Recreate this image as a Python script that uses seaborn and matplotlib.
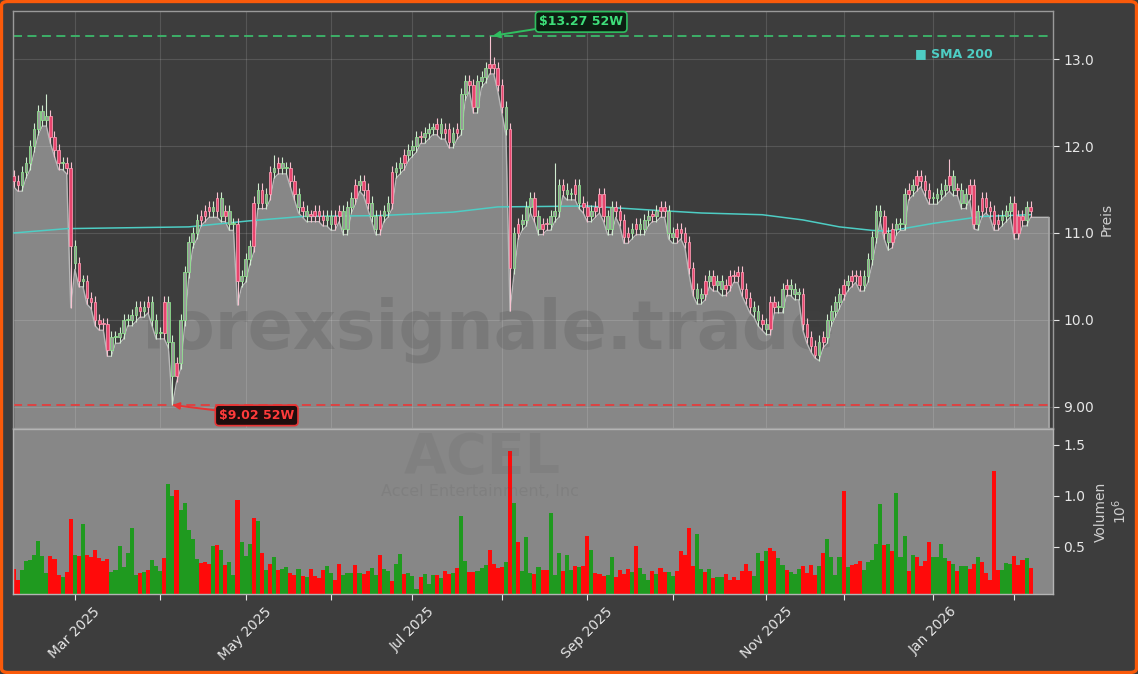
import numpy as np
import pandas as pd
import matplotlib
matplotlib.use('Agg')
import matplotlib.pyplot as plt
from matplotlib.patches import FancyBboxPatch
from matplotlib.ticker import FixedLocator, FuncFormatter
import seaborn as sns

# --- data ----------------------------------------------------------------
holidays = ['2025-02-17', '2025-04-18', '2025-05-26', '2025-06-19',
            '2025-07-04', '2025-09-01', '2025-11-27', '2025-12-25',
            '2026-01-01', '2026-01-19']

close_prices = [
    11.6, 11.55, 11.7, 11.8, 12.0, 12.2, 12.4, 12.3, 12.35, 12.1,
    11.95, 11.8, 11.8, 11.75, 10.85, 10.65, 10.45, 10.45, 10.25, 10.2,
    10.0, 9.95, 9.95, 9.65, 9.8, 9.8, 9.85, 10.0, 10.0, 10.05,
    10.15, 10.1, 10.15, 10.2, 10.0, 9.85, 9.85, 10.2, 9.75, 9.35,
    9.5, 10.0, 10.55, 10.9, 11.0, 11.15, 11.2, 11.25, 11.3, 11.25,
    11.4, 11.2, 11.25, 11.1, 11.1, 10.45, 10.5, 10.7, 10.85,
    11.35, 11.5, 11.35, 11.45, 11.7, 11.75, 11.8, 11.75, 11.75, 11.6,
    11.45, 11.3, 11.25, 11.2, 11.2, 11.25, 11.2, 11.15, 11.2, 11.1,
    11.2, 11.25, 11.05, 11.3, 11.4, 11.55, 11.6, 11.5, 11.35, 11.2,
    11.05, 11.2, 11.25, 11.35, 11.7, 11.75, 11.8, 11.9, 11.95, 12.0,
    12.1, 12.1, 12.15, 12.2, 12.2, 12.25, 12.15, 12.2, 12.05,
    12.15, 12.2, 12.6, 12.75, 12.7, 12.45, 12.75, 12.8, 12.9, 12.95,
    12.9, 12.7, 12.45, 12.2, 10.6, 11.0, 11.1, 11.15, 11.3, 11.4,
    11.2, 11.05, 11.1, 11.1, 11.2, 11.25, 11.55, 11.5, 11.45, 11.45,
    11.55, 11.35, 11.3, 11.2, 11.25, 11.3, 11.45, 11.2, 11.05, 11.3,
    11.25, 11.15, 10.95, 11.0, 11.05, 11.1, 11.05, 11.15, 11.2, 11.2,
    11.25, 11.3, 11.25, 11.0, 10.95, 11.05, 11.0, 10.9, 10.6, 10.35,
    10.25, 10.3, 10.45, 10.5, 10.4, 10.45, 10.35, 10.4, 10.5,
    10.5, 10.55, 10.35, 10.25, 10.15, 10.1, 10.0, 9.95, 9.9, 10.2,
    10.15, 10.15, 10.35, 10.4, 10.35, 10.3, 10.3, 9.95, 9.8, 9.7,
    9.6, 9.75, 9.8, 10.0, 10.1, 10.2, 10.3, 10.4, 10.45, 10.5,
    10.5, 10.4, 10.5, 10.7, 10.95, 11.25, 11.2, 11.0, 10.9, 11.05,
    11.1, 11.1, 11.45, 11.5, 11.55, 11.65, 11.6, 11.5, 11.4, 11.4,
    11.45, 11.5, 11.55, 11.65, 11.5, 11.5, 11.35, 11.45, 11.55,
    11.1, 11.25, 11.4, 11.3, 11.25, 11.1, 11.15, 11.2, 11.25, 11.35,
    11.0, 11.2, 11.15, 11.3, 11.25,
]
first_open = 11.65

# wick extremes that stand out (bar number -> price)
low_wicks = {14: 10.14, 39: 9.02, 55: 10.17, 122: 10.10, 197: 9.56,
             215: 10.80, 236: 11.05, 246: 10.93}
high_wicks = {8: 12.6, 64: 11.9, 117: 13.27, 133: 11.8, 230: 11.85}

volume_mio = [
    0.28, 0.17, 0.27, 0.36, 0.37, 0.42, 0.56, 0.41, 0.24, 0.41,
    0.38, 0.22, 0.20, 0.25, 0.77, 0.42, 0.41, 0.72, 0.42, 0.40,
    0.47, 0.39, 0.36, 0.38, 0.25, 0.27, 0.51, 0.30, 0.44, 0.68,
    0.22, 0.24, 0.25, 0.27, 0.37, 0.31, 0.26, 0.39, 1.12,
    1.00, 1.06, 0.86, 0.93, 0.66, 0.58, 0.38, 0.34, 0.35, 0.33,
    0.51, 0.52, 0.47, 0.32, 0.35, 0.22, 0.96, 0.55, 0.41, 0.53,
    0.78, 0.75, 0.44, 0.27, 0.33, 0.40, 0.27, 0.28, 0.30, 0.24,
    0.22, 0.28, 0.21, 0.20, 0.28, 0.21, 0.19, 0.27, 0.31, 0.24,
    0.17, 0.33, 0.22, 0.24, 0.24, 0.32, 0.24, 0.23, 0.26, 0.29,
    0.22,
    0.42, 0.28, 0.26, 0.16, 0.33, 0.43, 0.23, 0.24, 0.21, 0.08,
    0.20, 0.23, 0.13, 0.22, 0.22, 0.19, 0.26, 0.23, 0.24, 0.29,
    0.80, 0.36, 0.25, 0.25, 0.26, 0.29, 0.32, 0.47, 0.33, 0.29,
    0.30, 0.35, 1.44, 0.93, 0.55, 0.26, 0.60, 0.24, 0.23, 0.30,
    0.27, 0.27, 0.83, 0.22, 0.44, 0.26, 0.42, 0.27, 0.31, 0.30,
    0.31, 0.61, 0.47, 0.24, 0.23, 0.21, 0.22, 0.40, 0.20, 0.27,
    0.23, 0.28, 0.25, 0.51, 0.29, 0.23, 0.17, 0.26, 0.23, 0.29,
    0.25, 0.25, 0.21, 0.26, 0.46, 0.42, 0.68, 0.31, 0.62, 0.28,
    0.25, 0.28, 0.19, 0.20, 0.20, 0.23, 0.17, 0.20, 0.17, 0.26,
    0.33, 0.26, 0.21, 0.44, 0.36, 0.46, 0.49, 0.46, 0.39, 0.32,
    0.27, 0.25, 0.23, 0.28, 0.31, 0.24, 0.32, 0.22, 0.31, 0.44,
    0.58, 0.40, 0.22, 0.40, 1.05, 0.30, 0.32, 0.33, 0.36, 0.27,
    0.35, 0.37, 0.53, 0.92, 0.52, 0.53, 0.46, 1.03, 0.40, 0.61,
    0.26, 0.42, 0.40, 0.31, 0.36, 0.55, 0.40, 0.40, 0.53, 0.39,
    0.36, 0.33, 0.26, 0.31, 0.31, 0.28, 0.33, 0.40, 0.35, 0.24,
    0.17, 1.24, 0.27, 0.27, 0.34, 0.33, 0.41, 0.32, 0.37, 0.39,
    0.29,
]

# day colour as shown by the volume bars: g = up day, r = down day
day_colour = ''.join([
    'rrgggggggr', 'rrgrrgrgrr', 'rrrrgggggg', 'grgrgggrg', 'grgggggrrr',
    'grgrggrggg', 'rgrgrgrggr', 'rgrgrrrrgg', 'rrgggrgrrg', 'g',
    'rggrggrggg', 'rgggrgrrgr', 'ggrrgggrrr', 'rgrgrgggrg', 'rrgggrggrg',
    'rrgrrrggrr', 'rrgrgggrgr', 'rggrrrrrgg', 'rgrggrrrrr', 'rrggrgrrgg',
    'rgggrrrrgr', 'ggggrgrrrg', 'ggggrgrggg', 'rgrrrrgggg', 'rgrggrrgrr',
    'rrrgggrrrg', 'r',
])

# SMA 200 read at a few bars
sma_bar = [0, 13, 43, 58, 71, 90, 108, 119, 141, 158, 169, 184, 194, 203,
           211, 215, 226, 238, 250]
sma_val = [11.0, 11.05, 11.07, 11.14, 11.19, 11.2, 11.24, 11.3, 11.31, 11.26,
           11.23, 11.21, 11.15, 11.07, 11.03, 11.02, 11.11, 11.19, 11.21]

high_52w = 13.27
low_52w = 9.02
ticker = 'ACEL'
company = 'Accel Entertainment, Inc'

# --- derived ----------------------------------------------------------------
dates = pd.bdate_range('2025-02-07', '2026-02-06', freq='C', holidays=holidays)
n = len(close_prices)
dates = dates[:n]
idx = np.arange(n)
close = np.array(close_prices)
open_ = np.r_[first_open, close[:-1]]
top = np.maximum(open_, close)
bot = np.minimum(open_, close)
wick_pad = 0.07
high = top + wick_pad
low = bot - wick_pad
for k, v in low_wicks.items():
    low[k] = v
for k, v in high_wicks.items():
    high[k] = v
flags = (day_colour + 'g' * n)[:n]
up = np.array([c == 'g' for c in flags])

# --- style -----------------------------------------------------------------
bg = '#3d3d3d'
fill_grey = '#878787'
txt = '#e6e6e6'
sns.set_theme(style='dark', rc={'figure.facecolor': bg, 'axes.facecolor': bg,
                                'text.color': txt, 'xtick.color': txt,
                                'ytick.color': txt, 'axes.labelcolor': '#cfcfcf'})
plt.rcParams['font.family'] = ['DejaVu Sans']

W, H = 1138, 674
fig = plt.figure(figsize=(W / 100, H / 100), dpi=100)
ax = fig.add_axes([13 / W, (H - 428) / H, 1040 / W, 417 / H])
axv = fig.add_axes([13 / W, (H - 594) / H, 1040 / W, 165 / H], sharex=ax)

x_end = 254.5
ymin_p, ymax_p = 8.755, 13.555

# price panel
x_fill = np.r_[idx, x_end]
y_fill = np.r_[low, low[-1]]
ax.fill_between(x_fill, y_fill, ymin_p - 1, color=fill_grey, lw=0, zorder=1)
ax.plot(x_fill, y_fill, color='#b8b8b8', lw=1, zorder=2)
ax.vlines(x_end, ymin_p - 1, low[-1], color='#a8a8a8', lw=1.2, zorder=2)

ax.text(0.457, 0.235, 'forexsignale.trade', transform=ax.transAxes,
        ha='center', va='center', fontsize=48, fontweight='bold',
        color='#444444', alpha=0.2, zorder=1.8)

sns.lineplot(x=sma_bar, y=sma_val, ax=ax, color='#4ecdc4', lw=1.1,
             zorder=2.6, legend=False)

wick_cols = np.where(up, '#d0ecd0', '#f7c2d0')
ax.vlines(idx, low, high, colors=wick_cols, lw=0.8, zorder=3)
body_face = np.where(up, '#9a9a9a', '#e8456e')
body_edge = np.where(up, '#8ee88e', '#ff9fb6')
ax.bar(idx, np.maximum(top - bot, 0.015), bottom=bot, width=0.65,
       color=body_face, edgecolor=body_edge, lw=0.55, zorder=4)

ax.axhline(high_52w, color='#3cb96b', ls=(0, (5, 3)), lw=1.3, zorder=2.5)
ax.axhline(low_52w, color='#e33d3d', ls=(0, (5, 3)), lw=1.3, zorder=2.5)

hi_bar = max(high_wicks, key=high_wicks.get)
lo_bar = min(low_wicks, key=low_wicks.get)
ax.annotate('\\$%.2f 52W' % high_52w, xy=(hi_bar + 0.8, high_52w),
            xytext=(139.5, 13.43), ha='center', va='center', fontsize=9,
            fontweight='bold', color='#3ee07a', zorder=7,
            bbox=dict(boxstyle='round,pad=0.3', fc='#0d1f12', ec='#2fbf5f', lw=1.2),
            arrowprops=dict(arrowstyle='-|>', color='#2fbf5f', lw=1.4,
                            shrinkA=0, shrinkB=0, mutation_scale=10))
ax.annotate('\\$%.2f 52W' % low_52w, xy=(lo_bar, low_52w),
            xytext=(59.7, 8.90), ha='center', va='center', fontsize=9,
            fontweight='bold', color='#ff3b3b', zorder=7,
            bbox=dict(boxstyle='round,pad=0.3', fc='#1f0d0d', ec='#e83434', lw=1.2),
            arrowprops=dict(arrowstyle='-|>', color='#e83434', lw=1.4,
                            shrinkA=0, shrinkB=0, mutation_scale=10))

ax.text(0.867, 0.897, '\u25a0 SMA 200', transform=ax.transAxes, color='#4ecdc4',
        fontsize=9, fontweight='bold', va='center', zorder=7)

ax.set_ylim(ymin_p, ymax_p)
ax.set_xlim(-0.2, 255.5)
ax.yaxis.tick_right()
ax.yaxis.set_label_position('right')
ax.yaxis.set_major_locator(FixedLocator([9, 10, 11, 12, 13]))
ax.yaxis.set_major_formatter(FuncFormatter(lambda v, p: '{:#.3g}'.format(v)))
ax.set_ylabel('Preis', fontsize=10, labelpad=4)
ax.tick_params(axis='y', labelsize=10, length=4, width=0.8, colors=txt, right=True)
ax.tick_params(axis='x', bottom=False, labelbottom=False)
ax.set_axisbelow('line')
ax.grid(True, color='white', alpha=0.13, lw=0.8)
for s in ax.spines.values():
    s.set_color('#9a9a9a')
    s.set_linewidth(1)

# volume panel
vol_df = pd.DataFrame({'bar': idx, 'vol': volume_mio,
                       'dir': np.where(up, 'up', 'down')})
sns.barplot(data=vol_df, x='bar', y='vol', hue='dir', native_scale=True,
            palette={'up': '#1f9a1f', 'down': '#ff0a0a'}, dodge=False,
            width=1.0, linewidth=0, errorbar=None, saturation=1,
            legend=False, ax=axv)
axv.set_facecolor(fill_grey)
axv.set_ylim(0.035, 1.657)
axv.set_xlim(-0.2, 255.5)
axv.yaxis.tick_right()
axv.yaxis.set_label_position('right')
axv.yaxis.set_major_locator(FixedLocator([0.5, 1.0, 1.5]))
axv.yaxis.set_major_formatter(FuncFormatter(lambda v, p: '%.1f' % v))
axv.set_ylabel('Volumen\n$10^{6}$', fontsize=10, labelpad=6)
axv.set_xlabel('')
axv.grid(False)

month_first = pd.Series(idx, index=dates).groupby(dates.to_period('M')).first()
month_first = month_first[month_first.index >= pd.Period('2025-03', 'M')]
tick_pos = month_first.values
tick_lab = [p.strftime('%b %Y') if p.month % 2 == 1 else ''
            for p in month_first.index]
axv.xaxis.set_major_locator(FixedLocator(tick_pos))
axv.set_xticklabels(tick_lab, rotation=45, ha='center', fontsize=10)
axv.tick_params(axis='x', bottom=True, length=4, width=0.8, colors=txt)
axv.tick_params(axis='y', labelsize=10, length=4, width=0.8, colors=txt, right=True)
for s in axv.spines.values():
    s.set_color('#b4b4b4')
    s.set_linewidth(1)

fig.text(482 / W, 1 - 458 / H, ticker, ha='center', va='center', fontsize=40,
         fontweight='bold', color='#555555', alpha=0.12)
fig.text(480 / W, 1 - 492 / H, company, ha='center', va='center', fontsize=11.5,
         color='#555555', alpha=0.15)

fig.patches.append(FancyBboxPatch((1.5 / W, 1.5 / H), 1 - 3 / W, 1 - 3 / H,
                                  boxstyle='round,pad=0,rounding_size=0.006',
                                  transform=fig.transFigure, fill=False,
                                  ec='#fa5a0a', lw=2.4, zorder=10))

fig.savefig('out.png', dpi=100, facecolor=bg)
